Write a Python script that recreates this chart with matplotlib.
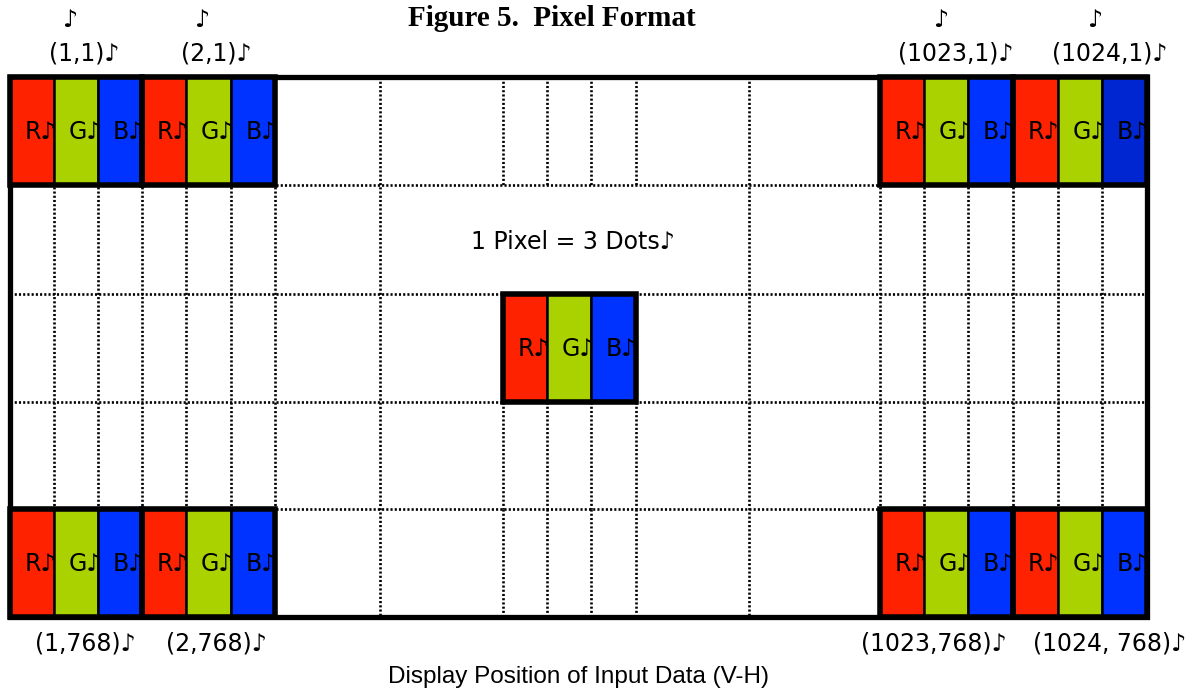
import matplotlib
matplotlib.use("Agg")
import matplotlib.pyplot as plt
from matplotlib.patches import Rectangle

# grid layout (pixel units of the drawing)
col_edges = [10, 54, 98, 142, 186, 231, 275, 380, 503, 547, 591, 636,
             749, 880, 924, 968, 1013, 1058, 1102, 1147]
row_edges = [77, 185, 294, 402, 509, 617]
# inner lines left out in row 1 (under the "1 Pixel = 3 Dots" note)
gap_cols = [8, 9, 10, 11]
gap_row = 1

# pixel blocks: (first column index, row index)
blocks = [(0, 0), (3, 0), (13, 0), (16, 0),
          (0, 4), (3, 4), (13, 4), (16, 4),
          (8, 2)]
dot_names = ["R♪", "G♪", "B♪"]
dot_colors = ["#ff2200", "#aad200", "#0033ff"]
dark_blue = "#0026d2"   # last dot of (1024,1) is a darker blue

top_labels = ["(1,1)♪", "(2,1)♪", "(1023,1)♪", "(1024,1)♪"]
top_label_x = [84, 216, 956, 1110]
note_x = [70, 202, 941, 1095]
bottom_labels = ["(1,768)♪", "(2,768)♪", "(1023,768)♪", "(1024, 768)♪"]
bottom_label_x = [85, 216, 934, 1110]

label_font = ["DejaVu Sans"]
fs = 17

fig = plt.figure(figsize=(11.9, 6.92), dpi=100)
ax = fig.add_axes([0, 0, 1, 1])
ax.set_xlim(0, 1190)
ax.set_ylim(692, 0)
ax.axis("off")

x0, x1 = col_edges[0], col_edges[-1]
y0, y1 = row_edges[0], row_edges[-1]
dot_style = dict(color="black", lw=1.9, linestyle=(0, (0.8, 0.8)),
                 dash_capstyle="butt", zorder=1)

# dotted grid
for i, x in enumerate(col_edges[1:-1], start=1):
    if i in gap_cols:
        for r in range(len(row_edges) - 1):
            if r != gap_row:
                ax.plot([x, x], [row_edges[r], row_edges[r + 1]], **dot_style)
    else:
        ax.plot([x, x], [y0, y1], **dot_style)
for y in row_edges[1:-1]:
    ax.plot([x0, x1], [y, y], **dot_style)

# outer frame
ax.add_patch(Rectangle((x0, y0), x1 - x0, y1 - y0, fill=False,
                       edgecolor="black", lw=3.8, zorder=2))

# pixel blocks
for bi, (c, r) in enumerate(blocks):
    ya, yb = row_edges[r], row_edges[r + 1]
    for k in range(3):
        xa, xb = col_edges[c + k], col_edges[c + k + 1]
        color = dot_colors[k]
        if bi == 3 and k == 2:
            color = dark_blue
        ax.add_patch(Rectangle((xa, ya), xb - xa, yb - ya, facecolor=color,
                               edgecolor="black", lw=1.8, zorder=3))
        ax.text(xa + 15, (ya + yb) / 2 + 1, dot_names[k], fontsize=fs,
                family=label_font, ha="left", va="center", zorder=4)
    ax.add_patch(Rectangle((col_edges[c], ya), col_edges[c + 3] - col_edges[c],
                           yb - ya, fill=False, edgecolor="black", lw=4,
                           zorder=5))

# labels
for t, x in zip(top_labels, top_label_x):
    ax.text(x, 54, t, fontsize=fs, family=label_font, ha="center", va="center")
for x in note_x:
    ax.text(x, 20, "♪", fontsize=fs, family=label_font, ha="center", va="center")
for t, x in zip(bottom_labels, bottom_label_x):
    ax.text(x, 643, t, fontsize=fs, family=label_font, ha="center", va="center")

ax.text(573, 242, "1 Pixel = 3 Dots♪", fontsize=fs, family=label_font,
        ha="center", va="center")
ax.text(552, 19, "Figure 5.  Pixel Format", fontsize=21, fontweight="bold",
        family="Liberation Serif", ha="center", va="center")
ax.text(579, 677, "Display Position of Input Data (V-H)", fontsize=17.5,
        family="Liberation Sans", ha="center", va="center")

fig.savefig("out.png", dpi=100)
